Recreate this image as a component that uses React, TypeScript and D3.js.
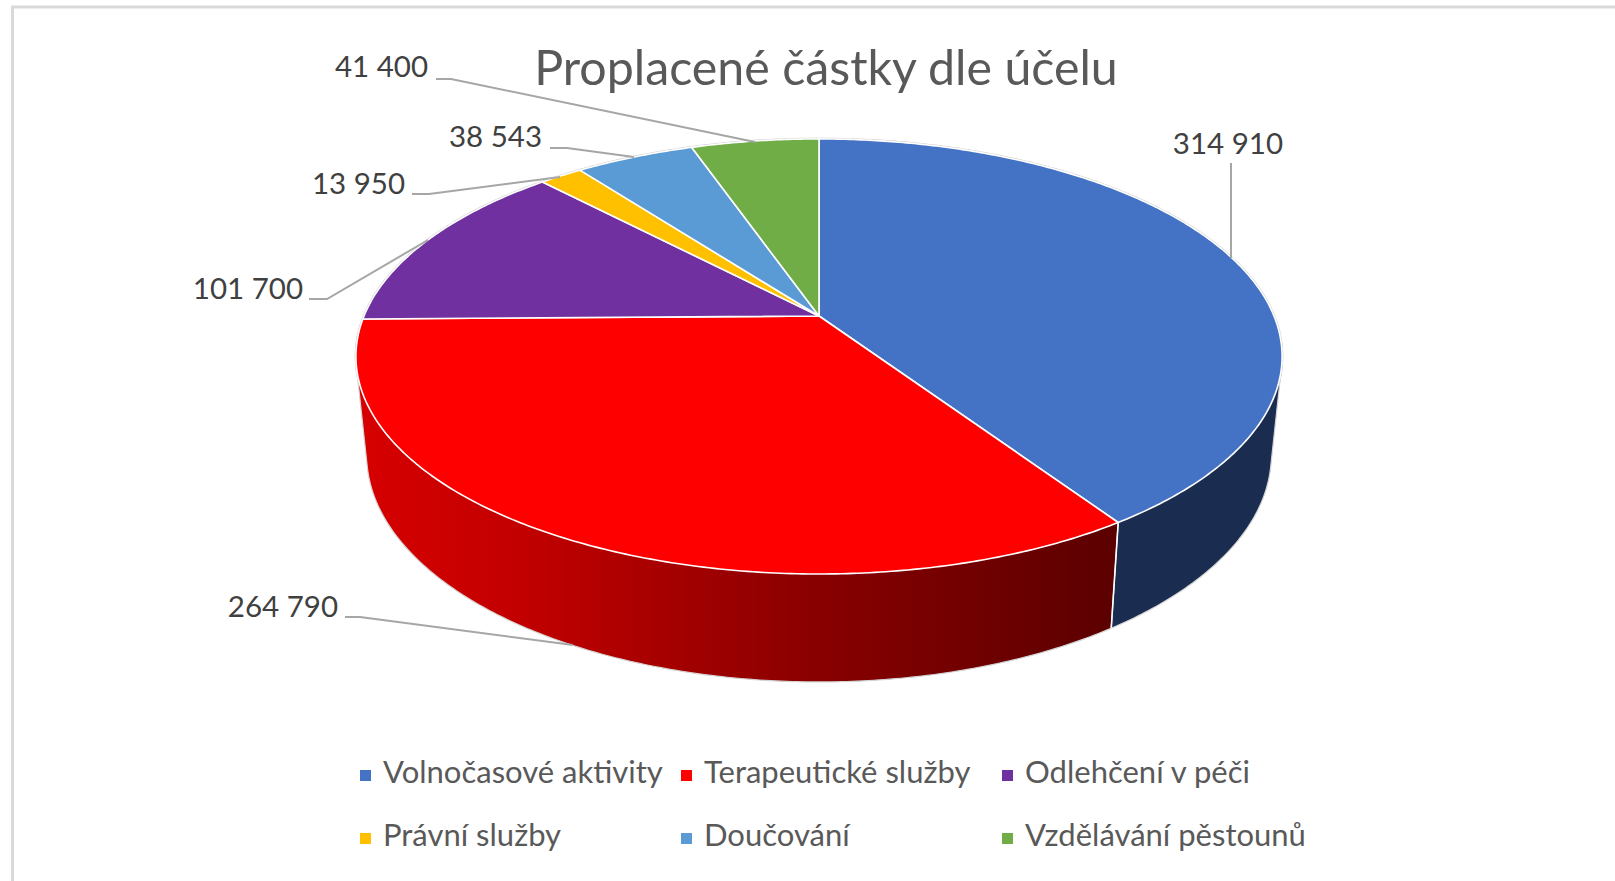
import React from "react";
import * as d3 from "d3";

const categories = ["Volnočasové aktivity", "Terapeutické služby", "Odlehčení v péči", "Právní služby", "Doučování", "Vzdělávání pěstounů"];
const values = [314910, 264790, 101700, 13950, 38543, 41400];
const valueLabels = ["314 910", "264 790", "101 700", "13 950", "38 543", "41 400"];
const topColors = ["#4472c4", "#ff0000", "#7030a0", "#ffc000", "#5b9bd5", "#70ad47"];
const sideColors = ["#1a2d50", "url(#redSide)", "#3a1a55", "#7f6000", "#2e5f8c", "#3a5d24"];
const title = "Proplacené částky dle účelu";

// Label layout: text end x, baseline y, leader line points
const labelLayout = [
  { x: 1283, y: 154, line: [[1231, 163], [1231, 258]] },
  { x: 338, y: 617, line: [[345, 617], [360, 617], [573, 645]] },
  { x: 303, y: 299, line: [[309, 299], [327, 299], [428, 240]] },
  { x: 405, y: 194, line: [[412, 194], [429, 194], [560, 177]] },
  { x: 542, y: 147, line: [[550, 148], [567, 148], [634, 157]] },
  { x: 428, y: 77, line: [[436, 79], [451, 79], [755, 142]] },
];
const legendX = [360, 681, 1002];
const legendY = [783, 846];

const topPlane = { cx: 819, cy: 316, rx: 455, ry: 210, k: 0.186 };
const basePlane = { cx: 819, cy: 412.8, rx: 444.4, ry: 219.1, k: 0.186 };
type Plane = typeof topPlane;

function project(p: Plane, t: number): [number, number] {
  const x = Math.sin(t);
  const y = -Math.cos(t);
  const w = 1 - p.k * y;
  return [p.cx + (p.rx * x) / w, p.cy + (p.ry * y) / w];
}

function arcPoints(p: Plane, a0: number, a1: number): [number, number][] {
  const n = Math.max(2, Math.ceil((a1 - a0) / 0.01));
  return d3.range(n + 1).map((i) => project(p, a0 + ((a1 - a0) * i) / n));
}

const line = d3.line<[number, number]>().x((d) => d[0]).y((d) => d[1]);
const arcs = d3.pie<number>().sort(null).value((d) => d)(values);
// Side walls painted back to front: hidden ones, then the blue wall, then the red wall over it
const wallOrder = [5, 4, 3, 2, 0, 1];

export default function App() {
  const boundary = arcs[0].endAngle;
  const divider = [project(topPlane, boundary), project(basePlane, boundary)] as [number, number][];
  const rim = arcPoints(topPlane, 0, Math.PI * 2);
  return (
    <svg width={1615} height={881} style={{ position: "fixed", left: 0, top: 0, background: "#fff" }}>
      <defs>
        <linearGradient id="redSide" gradientUnits="userSpaceOnUse" x1={368} y1={0} x2={1110} y2={0}>
          <stop offset="0" stopColor="#d60000" />
          <stop offset="0.205" stopColor="#c20000" />
          <stop offset="0.61" stopColor="#880000" />
          <stop offset="1" stopColor="#5c0000" />
        </linearGradient>
      </defs>
      <path d="M12.5,881 V7 H1615" fill="none" stroke="#d9d9d9" strokeWidth={3} />
      <text x={826} y={85} textAnchor="middle" fontFamily="Lato" fontSize={48.3} fill="#595959">{title}</text>

      {/* Pale outline of the top rim */}
      <path d={line(rim) + "Z"} fill="#fff" stroke="#cfcfcf" strokeWidth={2.6} />

      {/* Side walls */}
      {wallOrder.map((i) => {
        const a = arcs[i];
        const hull = d3.polygonHull([...arcPoints(topPlane, a.startAngle, a.endAngle), ...arcPoints(basePlane, a.startAngle, a.endAngle)]);
        return <path key={i} d={line(hull as [number, number][]) + "Z"} fill={sideColors[i]} stroke="#d4d4d4" strokeWidth={i < 2 ? 1.2 : 0} />;
      })}
      <path d={line(divider) ?? ""} stroke="#fff" strokeWidth={1.6} fill="none" />

      {/* Top face */}
      {arcs.map((a, i) => {
        const pts: [number, number][] = [[topPlane.cx, topPlane.cy], ...arcPoints(topPlane, a.startAngle, a.endAngle)];
        return <path key={i} d={line(pts) + "Z"} fill={topColors[i]} stroke="#fff" strokeWidth={1.6} strokeLinejoin="round" />;
      })}

      {/* Data labels */}
      {labelLayout.map((l, i) => (
        <g key={i}>
          <path d={line(l.line as [number, number][]) ?? ""} fill="none" stroke="#a6a6a6" strokeWidth={2} />
          <text x={l.x} y={l.y} textAnchor="end" fontFamily="Lato" fontSize={29.5} fill="#404040">{valueLabels[i]}</text>
        </g>
      ))}

      {/* Legend */}
      {categories.map((c, i) => {
        const x = legendX[i % 3];
        const y = legendY[Math.floor(i / 3)];
        return (
          <g key={c}>
            <rect x={x} y={y - 13} width={11} height={11} fill={topColors[i]} />
            <text x={x + 23} y={y} fontFamily="Lato" fontSize={31} fill="#595959">{c}</text>
          </g>
        );
      })}
    </svg>
  );
}
